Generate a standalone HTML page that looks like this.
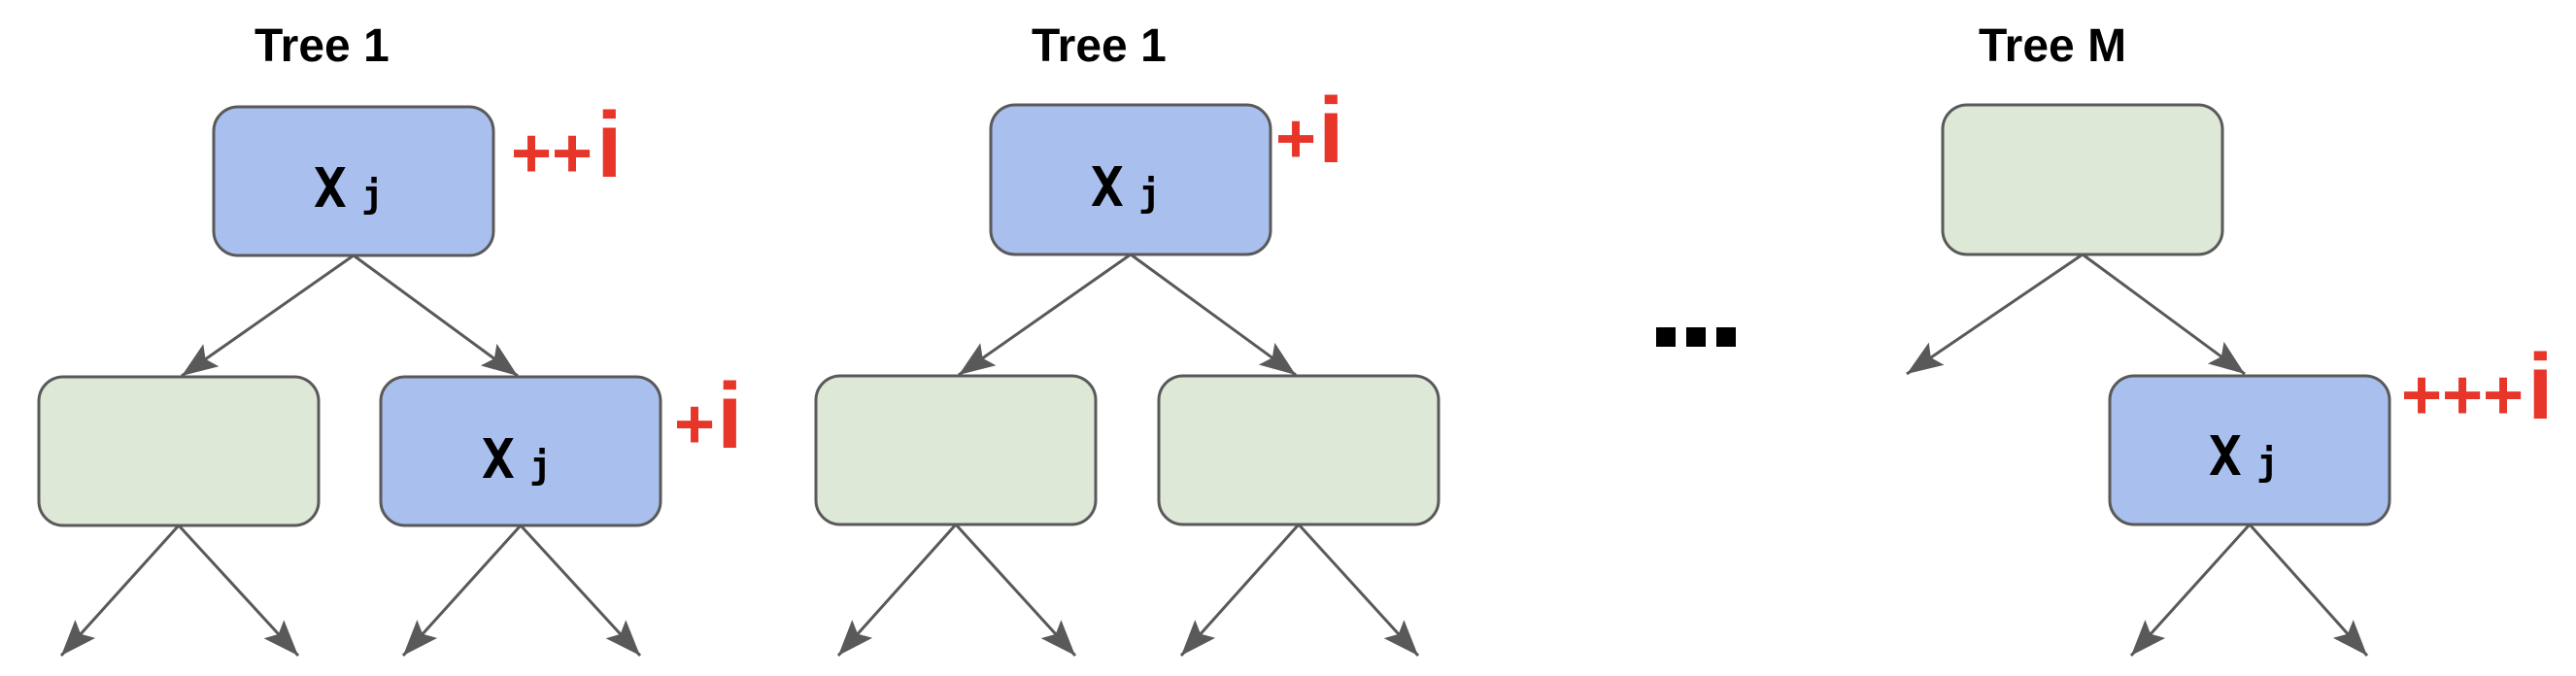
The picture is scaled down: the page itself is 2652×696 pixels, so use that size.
<!DOCTYPE html>
<html><head><meta charset="utf-8"><style>
html,body{margin:0;padding:0;background:#fff;}
svg{display:block;}
.t{font-family:"Liberation Sans",sans-serif;font-weight:bold;font-size:48px;fill:#000;}
.x{font-family:"DejaVu Sans Mono","Liberation Mono",monospace;font-weight:bold;font-size:56px;fill:#000;}
.j{font-family:"DejaVu Sans Mono","Liberation Mono",monospace;font-weight:bold;font-size:38px;fill:#000;}
.p{font-family:"Liberation Sans",sans-serif;font-weight:bold;font-size:72px;fill:#e8352a;}
.i{font-family:"Liberation Sans",sans-serif;font-weight:bold;font-size:96px;fill:#e8352a;}
.b{fill:#a9bfee;stroke:#595959;stroke-width:3;}
.g{fill:#dde8d6;stroke:#595959;stroke-width:3;}
.l{stroke:#595959;stroke-width:3;fill:none;marker-end:url(#a);}
</style></head><body>
<svg width="2652" height="696" viewBox="0 0 2652 696" xmlns="http://www.w3.org/2000/svg">
<defs>
<marker id="a" markerUnits="userSpaceOnUse" markerWidth="40" markerHeight="32" refX="37" refY="14" orient="auto">
<path d="M0,0 L37,14 L0,28 L7,14 Z" fill="#595959"/>
</marker>
</defs>

<!-- Tree 1 (first) -->
<text class="t" x="262" y="63">Tree 1</text>
<rect class="b" x="220" y="110" width="288" height="153" rx="25"/>
<text class="x" x="323" y="213">X</text><text class="j" x="372" y="213">j</text>
<text class="p" x="526" y="182">+</text><text class="p" x="568" y="182">+</text><text class="i" x="614" y="182">i</text>
<line class="l" x1="364" y1="263" x2="187" y2="387"/>
<line class="l" x1="364" y1="263" x2="533" y2="387"/>
<rect class="g" x="40" y="388" width="288" height="153" rx="25"/>
<rect class="b" x="392" y="388" width="288" height="153" rx="25"/>
<text class="x" x="496" y="492">X</text><text class="j" x="545" y="492">j</text>
<text class="p" x="694" y="461">+</text><text class="i" x="738" y="461">i</text>
<line class="l" x1="184" y1="541" x2="63" y2="675"/>
<line class="l" x1="184" y1="541" x2="307" y2="675"/>
<line class="l" x1="536" y1="541" x2="415" y2="675"/>
<line class="l" x1="536" y1="541" x2="659" y2="675"/>

<!-- Tree 1 (second) -->
<text class="t" x="1062" y="63">Tree 1</text>
<rect class="b" x="1020" y="108" width="288" height="154" rx="25"/>
<text class="x" x="1123" y="212">X</text><text class="j" x="1172" y="212">j</text>
<text class="p" x="1313" y="167">+</text><text class="i" x="1357" y="167">i</text>
<line class="l" x1="1164" y1="262" x2="987" y2="386"/>
<line class="l" x1="1164" y1="262" x2="1334" y2="386"/>
<rect class="g" x="840" y="387" width="288" height="153" rx="25"/>
<rect class="g" x="1193" y="387" width="288" height="153" rx="25"/>
<line class="l" x1="984" y1="540" x2="863" y2="675"/>
<line class="l" x1="984" y1="540" x2="1107" y2="675"/>
<line class="l" x1="1337" y1="540" x2="1216" y2="675"/>
<line class="l" x1="1337" y1="540" x2="1460" y2="675"/>

<!-- dots -->
<rect x="1705" y="337" width="20" height="20" fill="#000"/>
<rect x="1736" y="337" width="20" height="20" fill="#000"/>
<rect x="1767" y="337" width="20" height="20" fill="#000"/>

<!-- Tree M -->
<text class="t" x="2037" y="63">Tree M</text>
<rect class="g" x="2000" y="108" width="288" height="154" rx="25"/>
<line class="l" x1="2144" y1="262" x2="1963" y2="385"/>
<line class="l" x1="2144" y1="262" x2="2311" y2="385"/>
<rect class="b" x="2172" y="387" width="288" height="153" rx="25"/>
<text class="x" x="2274" y="489">X</text><text class="j" x="2323" y="489">j</text>
<text class="p" x="2472" y="431">+</text><text class="p" x="2514" y="431">+</text><text class="p" x="2556" y="431">+</text><text class="i" x="2602" y="431">i</text>
<line class="l" x1="2316" y1="540" x2="2194" y2="675"/>
<line class="l" x1="2316" y1="540" x2="2437" y2="675"/>
</svg>
</body></html>
